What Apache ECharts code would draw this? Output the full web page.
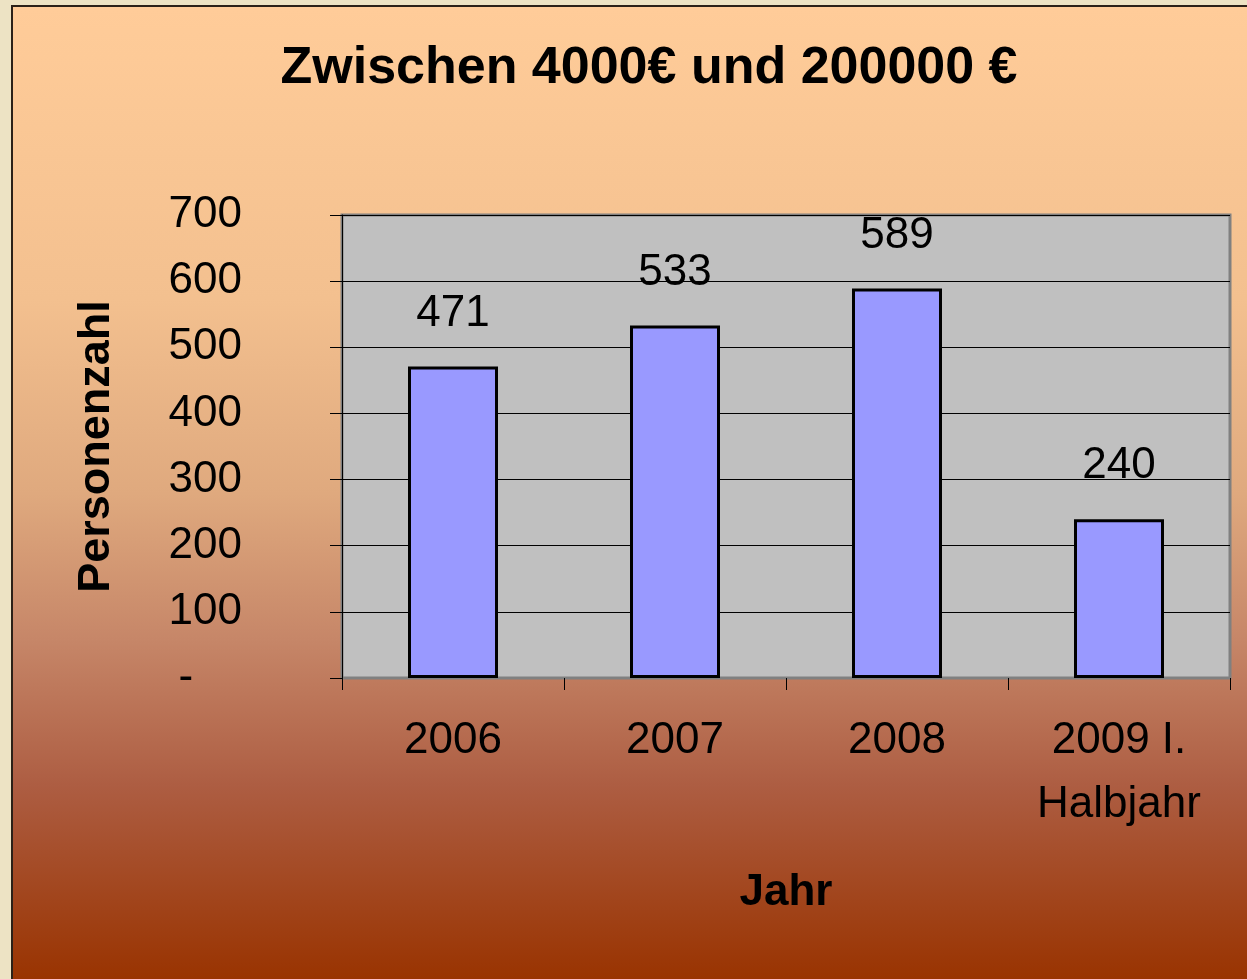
<!DOCTYPE html>
<html>
<head>
<meta charset="utf-8">
<script src="https://cdn.jsdelivr.net/npm/echarts@6/dist/echarts.min.js"></script>
<style>
    html, body { margin: 0; padding: 0; width: 1247px; height: 979px; overflow: hidden; background: #ede3c4; }
    #chart { position: absolute; left: 11px; top: 5px; width: 1236px; height: 974px;
             border-left: 2px solid #2b2118; border-top: 2px solid #2b2118; }
</style>
</head>
<body>
<div id="chart"></div>
<script>
// Personen zwischen 4000€ und 200000 €
var jahre = ["2006", "2007", "2008", "2009 I.\nHalbjahr"];
var personen = [471, 533, 589, 240];
var yTicks = [0, 100, 200, 300, 400, 500, 600, 700];

var font = "Liberation Sans, Arial, sans-serif";

echarts.init(document.querySelector("#chart")).setOption({
    backgroundColor: {
        type: 'linear', x: 0, y: 0, x2: 0, y2: 1,
        colorStops: [
            { offset: 0, color: '#ffcc99' },
            { offset: 0.3, color: '#f3c08f' },
            { offset: 0.5, color: '#dfa97e' },
            { offset: 0.65, color: '#c68668' },
            { offset: 0.8, color: '#ad5d42' },
            { offset: 1, color: '#993300' }
        ]
    },
    title: {
        text: 'Zwischen 4000€ und 200000 €',
        left: 631,
        top: 31,
        textAlign: 'center',
        textStyle: { fontFamily: font, fontSize: 52, fontWeight: 'bold', color: '#000' }
    },
    grid: {
        left: 329,
        top: 208,
        right: 19,
        bottom: 303,
        show: true,
        backgroundColor: '#c0c0c0',
        borderColor: '#808080',
        borderWidth: 3
    },
    xAxis: {
        type: 'category',
        data: jahre,
        name: 'Jahr',
        nameLocation: 'middle',
        nameGap: 193,
        nameTextStyle: { fontFamily: font, fontSize: 44, fontWeight: 'bold', color: '#000' },
        axisLine: { show: true, lineStyle: { color: '#808080', width: 1 } },
        axisTick: { show: true, length: 12, lineStyle: { color: '#000' } },
        axisLabel: {
            fontFamily: font, fontSize: 44, color: '#000',
            lineHeight: 64, margin: 31, interval: 0
        }
    },
    yAxis: {
        type: 'value',
        min: yTicks[0],
        max: yTicks[yTicks.length - 1],
        interval: 100,
        name: 'Personenzahl',
        nameLocation: 'middle',
        nameRotate: 90,
        nameGap: 223,
        nameTextStyle: { fontFamily: font, fontSize: 45, fontWeight: 'bold', color: '#000' },
        axisLine: { show: true, lineStyle: { color: '#000', width: 1 } },
        axisTick: { show: true, length: 12, lineStyle: { color: '#000' } },
        splitLine: { show: true, lineStyle: { color: '#000', width: 1 } },
        axisLabel: {
            fontFamily: font, fontSize: 44, color: '#000', margin: 100,
            formatter: function (v) { return v === 0 ? '-    ' : String(v); }
        }
    },
    series: [{
        type: 'bar',
        data: personen,
        barWidth: 90,
        itemStyle: { color: '#9999ff', borderColor: '#000', borderWidth: 3 },
        label: {
            show: true,
            position: 'top',
            distance: 31,
            fontFamily: font,
            fontSize: 44,
            lineHeight: 44,
            color: '#000'
        }
    }]
});
</script>
</body>
</html>
